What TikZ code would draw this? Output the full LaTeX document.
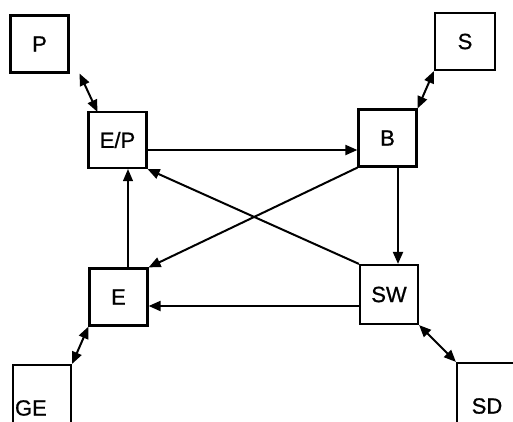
\documentclass[tikz,border=0pt]{standalone}
\usepackage{fontspec}
\setmainfont{Liberation Sans}
\newfontfamily\labfont{Liberation Sans}[FakeBold=0.8]
\usetikzlibrary{arrows.meta,calc}
\begin{document}
\begin{tikzpicture}[x=1pt,y=-1pt,
  box/.style={draw,line width=2.2pt,minimum width=58pt,minimum height=57pt,inner sep=0pt,font=\labfont\fontsize{22}{24}\selectfont},
  arr/.style={line width=2pt,-{Triangle[length=12pt,width=10pt]}},
  darr/.style={line width=2pt,{Triangle[length=12pt,width=10pt]}-{Triangle[length=12pt,width=10pt]}},
  thin arr/.style={line width=1.1pt,-{Triangle[length=12pt,width=10pt]}}]
\fill[white] (0,0) rectangle (513,421);
\useasboundingbox (0,0) rectangle (513,421);
\clip (0,0) rectangle (513,421);
\node[box] (P) at (39.5,44) {P};
\node[box,minimum height=56pt] (EP) at (117.5,140) {E/P};
\node[box,minimum width=60pt] (S) at (465,41.5) {S};
\node[box] (B) at (387.5,138) {B};
\node[box] (E) at (118.5,297) {E};
\node[box,minimum height=59pt] (SW) at (389,294.5) {SW};
\node[box,minimum height=86pt,text width=54pt,align=left] (GE) at (42,408) {GE};
\node[box,minimum width=60pt,minimum height=86pt] (SD) at (487,406) {SD};
% bidirectional links
\draw[darr] ([xshift=10pt]P.south east) -- ([xshift=10pt,yshift=-1pt]EP.north west);
\draw[darr] (S.south west) -- (B.north east);
\draw[darr] (E.south west) -- (GE.north east);
\draw[darr] (SW.south east) -- (SD.north west);
% main arrows
\draw[arr] ($(EP.east)+(0,10)$) coordinate (a1) -- (a1 -| B.west);
\draw[arr] ($(B.south)+(10.5,0)$) coordinate (a2) -- (a2 |- SW.north);
\draw[arr] (B.south west) -- (E.north east);
\draw[arr] (SW.north west) -- (EP.south east);
\draw[arr] ($(SW.west)+(0,11.5)$) coordinate (a3) -- (a3 -| E.east);
\draw[thin arr] ($(E.north)+(9.5,0)$) coordinate (a4) -- (a4 |- EP.south);
\end{tikzpicture}
\end{document}
